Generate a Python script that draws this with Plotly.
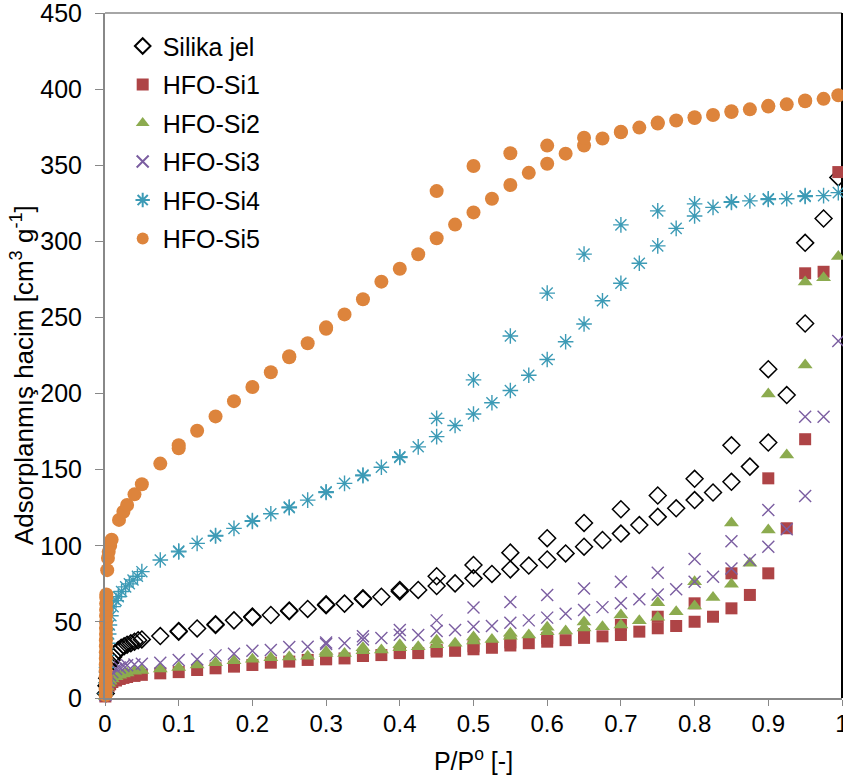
import plotly.graph_objects as go

# ---------------- data ----------------
silika_x = [0.001, 0.002, 0.003, 0.004, 0.005, 0.007, 0.009, 0.011, 0.014, 0.018, 0.022, 0.026, 0.03, 0.035, 0.04, 0.045, 0.05,
            0.075, 0.1, 0.125, 0.15, 0.175, 0.2, 0.225, 0.25, 0.275, 0.3, 0.325, 0.35, 0.375, 0.4, 0.425, 0.45, 0.475, 0.5,
            0.525, 0.55, 0.575, 0.6, 0.625, 0.65, 0.675, 0.7, 0.725, 0.75, 0.775, 0.8, 0.825, 0.85, 0.875, 0.9, 0.925, 0.95,
            0.975, 0.995,
            0.95, 0.9, 0.85, 0.8, 0.75, 0.7, 0.65, 0.6, 0.55, 0.5, 0.45, 0.4, 0.35, 0.3, 0.25, 0.2, 0.15, 0.1]
silika_y = [3, 8, 13, 17, 20, 23, 25, 27, 29, 31.5, 33, 34, 35, 36, 37, 38, 38.5,
            40.7, 43.6, 45.7, 48, 51, 53, 54.5, 57, 58.5, 61, 62, 65, 66.5, 70, 71, 73.6, 75.3, 78.6,
            81.5, 84.5, 87, 91, 95, 99.4, 103.8, 108, 113.6, 119, 124.6, 130, 135, 142, 152, 167.8, 199, 246,
            315, 342,
            299, 216, 166, 144, 133, 124, 115, 105, 95.5, 87.4, 80, 71, 65.5, 61.5, 57.5, 53.5, 48.5, 44]

si1_x = [0.0005, 0.001, 0.002, 0.003, 0.005, 0.007, 0.01, 0.015, 0.02, 0.025, 0.03, 0.04, 0.05,
         0.075, 0.1, 0.125, 0.15, 0.175, 0.2, 0.225, 0.25, 0.275, 0.3, 0.325, 0.35, 0.375, 0.4, 0.425, 0.45, 0.475, 0.5,
         0.525, 0.55, 0.575, 0.6, 0.625, 0.65, 0.675, 0.7, 0.725, 0.75, 0.775, 0.8, 0.825, 0.85, 0.875, 0.9, 0.925, 0.95,
         0.975, 0.995,
         0.95, 0.9, 0.85, 0.8, 0.75, 0.7, 0.65, 0.6, 0.55, 0.5, 0.45, 0.4, 0.35, 0.3]
si1_y = [1, 3, 5, 6.5, 8, 9, 10.5, 11.5, 12.5, 13.2, 13.8, 14.5, 15.2,
         16.2, 17, 18.4, 19.5, 20.6, 21.7, 23.2, 23.9, 25, 25.4, 26, 27.6, 28.2, 29.5, 29.5, 30.5, 31, 32,
         33, 34.5, 36, 37, 38, 39.5, 40.5, 41.4, 43.6, 45.8, 47.3, 50.1, 53.4, 58.9, 67.7, 81.9, 111.5, 170,
         280, 345.5,
         279, 144.3, 81.9, 62.2, 53.4, 48, 42, 39.5, 36.5, 34, 31.5, 30, 28, 26]

si2_x = [0.0005, 0.001, 0.002, 0.003, 0.005, 0.007, 0.01, 0.015, 0.02, 0.025, 0.03, 0.04, 0.05,
         0.075, 0.1, 0.125, 0.15, 0.175, 0.2, 0.225, 0.25, 0.275, 0.3, 0.325, 0.35, 0.375, 0.4, 0.425, 0.45, 0.475, 0.5,
         0.525, 0.55, 0.575, 0.6, 0.625, 0.65, 0.675, 0.7, 0.725, 0.75, 0.775, 0.8, 0.825, 0.85, 0.875, 0.9, 0.925, 0.95,
         0.975, 0.995,
         0.95, 0.9, 0.85, 0.8, 0.75, 0.7, 0.65, 0.6, 0.55, 0.5, 0.45, 0.4, 0.35, 0.3]
si2_y = [1, 3.5, 6, 7.5, 9.5, 11, 12.5, 14, 15, 15.8, 16.5, 17.5, 18,
         19, 20, 21.7, 23.2, 24.5, 25.5, 26.5, 27, 27.5, 29.3, 29.3, 31, 31.5, 33, 33.7, 35, 36, 37.5,
         38.5, 40.5, 41.4, 43.5, 44, 46, 46.8, 48, 50.8, 53, 56.7, 60.4, 66, 74.7, 88.5, 110.4, 159.7, 218.8,
         276, 290,
         273.3, 199.7, 115, 76.4, 62.6, 54.5, 50, 46.5, 42.5, 40, 38, 35, 33, 30.5]

si3_x = [0.0005, 0.001, 0.002, 0.003, 0.005, 0.007, 0.01, 0.015, 0.02, 0.025, 0.03, 0.04, 0.05,
         0.075, 0.1, 0.125, 0.15, 0.175, 0.2, 0.225, 0.25, 0.275, 0.3, 0.325, 0.35, 0.375, 0.4, 0.425, 0.45, 0.475, 0.5,
         0.525, 0.55, 0.575, 0.6, 0.625, 0.65, 0.675, 0.7, 0.725, 0.75, 0.775, 0.8, 0.825, 0.85, 0.875, 0.9, 0.925, 0.95,
         0.975, 0.995,
         0.95, 0.9, 0.85, 0.8, 0.75, 0.7, 0.65, 0.6, 0.55, 0.5, 0.45, 0.4, 0.35, 0.3]
si3_y = [2, 5, 8, 10.5, 13, 15, 17, 19, 20, 21, 21.5, 22, 22.5,
         23.2, 25, 25.5, 28, 29, 31, 31.5, 33.5, 33.7, 35.5, 36, 38.5, 39.4, 41.5, 41.4, 44, 44.7, 46.8,
         47.3, 49.5, 51, 52.8, 55.4, 57.8, 59.7, 62.3, 64.8, 68, 71.4, 76.4, 79.7, 85, 90.7, 99.4, 110.8, 132.7,
         184.8, 234.5,
         184.8, 123.5, 103, 91.3, 82.3, 76.4, 72, 67.7, 63, 59.4, 51, 44.7, 40.5, 36.5]

si4_x = [0.0005, 0.001, 0.002, 0.003, 0.004, 0.005, 0.006, 0.008, 0.011, 0.015, 0.018, 0.0225, 0.028, 0.033, 0.038, 0.044, 0.05,
         0.075, 0.1, 0.125, 0.15, 0.175, 0.2, 0.225, 0.25, 0.275, 0.3, 0.325, 0.35, 0.375, 0.4, 0.425, 0.45, 0.475, 0.5,
         0.525, 0.55, 0.575, 0.6, 0.625, 0.65, 0.675, 0.7, 0.725, 0.75, 0.775, 0.8, 0.825, 0.85, 0.875, 0.9, 0.925, 0.95,
         0.975, 0.995,
         0.95, 0.9, 0.85, 0.8, 0.75, 0.7, 0.65, 0.6, 0.55, 0.5, 0.45, 0.4, 0.35, 0.3, 0.25, 0.2, 0.15, 0.1]
si4_y = [3, 10, 20, 28, 36, 42, 48, 54, 60, 64, 66.5, 70, 73, 75, 77.5, 80, 83,
         90.7, 96, 101.6, 106.4, 111.4, 116, 121, 125, 130, 135, 141, 146, 151.6, 158, 165, 171.7, 179, 186.6,
         194, 202, 212, 222.4, 234, 245.7, 261, 272.5, 285.6, 297, 308.5, 316.6, 322.3, 325.6, 326.6, 327.5, 328, 329.5,
         330, 332,
         330, 328, 326, 324.6, 320, 310.8, 291.6, 266, 237.8, 209, 183.7, 158.5, 146.5, 135.5, 125.5, 116.5, 106.8, 96.5]

si5_x = [0.0008, 0.0008, 0.0009, 0.0009, 0.001, 0.001, 0.0011, 0.0011, 0.0012, 0.0012, 0.0013, 0.0013, 0.0014, 0.0014,
         0.0015, 0.0016, 0.0017, 0.0018, 0.003, 0.004, 0.005, 0.007, 0.009, 0.019, 0.025, 0.03, 0.04, 0.05,
         0.075, 0.1, 0.125, 0.15, 0.175, 0.2, 0.225, 0.25, 0.275, 0.3, 0.325, 0.35, 0.375, 0.4, 0.425, 0.45, 0.475, 0.5,
         0.525, 0.55, 0.575, 0.6, 0.625, 0.65, 0.675, 0.7, 0.725, 0.75, 0.775, 0.8, 0.825, 0.85, 0.875, 0.9, 0.925, 0.95,
         0.975, 0.995,
         0.95, 0.9, 0.85, 0.8, 0.75, 0.7, 0.65, 0.6, 0.55, 0.5, 0.45, 0.3, 0.25, 0.1]
si5_y = [2, 6, 10, 14, 18, 22, 26, 30, 34, 38, 42, 46, 50, 54,
         58, 62, 66, 68, 84, 92, 96, 100, 104, 117, 122.4, 126.8, 133.8, 140.4,
         154, 164, 175.6, 185, 195, 204.3, 214, 223.8, 233, 242.6, 252, 262, 273.5, 282, 291.5, 302, 311, 319,
         328, 337, 345, 351, 357.6, 363, 367.6, 371.6, 374.7, 377.4, 379.4, 381, 383, 385, 386.7, 388.5, 390, 392,
         393.6, 396,
         392.5, 389, 385.5, 381.5, 378, 372, 368, 362.9, 357.9, 349.5, 333, 243.5, 224.5, 166]

series_names = ["Silika jel", "HFO-Si1", "HFO-Si2", "HFO-Si3", "HFO-Si4", "HFO-Si5"]
x_ticks = [0, 0.1, 0.2, 0.3, 0.4, 0.5, 0.6, 0.7, 0.8, 0.9, 1]
x_tick_labels = ["0", "0.1", "0.2", "0.3", "0.4", "0.5", "0.6", "0.7", "0.8", "0.9", "1"]
y_ticks = [0, 50, 100, 150, 200, 250, 300, 350, 400, 450]
x_title = "P/P<sup>o</sup> [-]"
y_title = "Adsorplanmış hacim [cm<sup>3</sup> g<sup>-1</sup>]"

# ---------------- styling ----------------
FONT = "Liberation Sans, Arial, sans-serif"
styles = [
    dict(symbol="diamond-open", color="black", size=13, line=dict(color="black", width=1.5)),
    dict(symbol="square", color="#AE4446", size=12, line=dict(width=0)),
    dict(symbol="triangle-up", color="#8CAB4F", size=13, line=dict(width=0)),
    dict(symbol="x-thin-open", color="#7B5EA1", size=12, line=dict(color="#7B5EA1", width=1.4)),
    dict(symbol="asterisk-open", color="#3D9BB6", size=13, line=dict(color="#3D9BB6", width=1.4)),
    dict(symbol="circle", color="#DD843C", size=14, line=dict(width=0)),
]
xs = [silika_x, si1_x, si2_x, si3_x, si4_x, si5_x]
ys = [silika_y, si1_y, si2_y, si3_y, si4_y, si5_y]

fig = go.Figure()
for name, x, y, st in zip(series_names, xs, ys, styles):
    fig.add_trace(go.Scatter(x=x, y=y, mode="markers", name=name, marker=st,
                             cliponaxis=False, legendgroup=name))

fig.update_layout(
    width=843, height=782,
    margin=dict(l=105, r=1, t=13, b=84),
    paper_bgcolor="white", plot_bgcolor="white",
    font=dict(family=FONT, color="black", size=25),
    showlegend=True,
    legend=dict(x=0.024, y=0.985, xanchor="left", yanchor="top",
                font=dict(size=25, family=FONT), bgcolor="rgba(0,0,0,0)",
                tracegroupgap=3, itemsizing="constant"),
    xaxis=dict(range=[0, 1], tickvals=x_ticks, ticktext=x_tick_labels, showgrid=False, zeroline=False,
               showline=True, linecolor="#888888", linewidth=2, ticks="outside", ticklen=6,
               tickcolor="#888888", tickwidth=1, tickfont=dict(size=24), ticklabeloverflow="allow",
               ticklabelstandoff=-3, automargin=False,
               title=dict(text=x_title, font=dict(size=25), standoff=17)),
    yaxis=dict(range=[0, 450], tickvals=y_ticks, showgrid=False, zeroline=False,
               showline=True, linecolor="#888888", linewidth=2, ticks="outside", ticklen=8,
               tickcolor="#888888", tickwidth=1, tickfont=dict(size=25), ticklabelstandoff=8,
               ticklabeloverflow="allow", automargin=False),
    annotations=[
        dict(text=y_title, xref="paper", yref="paper", x=-0.1126, y=0.4715,
             xanchor="center", yanchor="middle", textangle=-90, showarrow=False,
             font=dict(size=26, family=FONT, color="black")),
    ],
    shapes=[
        dict(type="line", xref="paper", yref="paper", x0=0, x1=1, y0=1, y1=1,
             line=dict(color="#888888", width=1.5), layer="below"),
        dict(type="line", xref="paper", yref="paper", x0=1, x1=1, y0=0, y1=1,
             line=dict(color="black", width=2), layer="below"),
    ],
)

fig.write_html("out.html")
